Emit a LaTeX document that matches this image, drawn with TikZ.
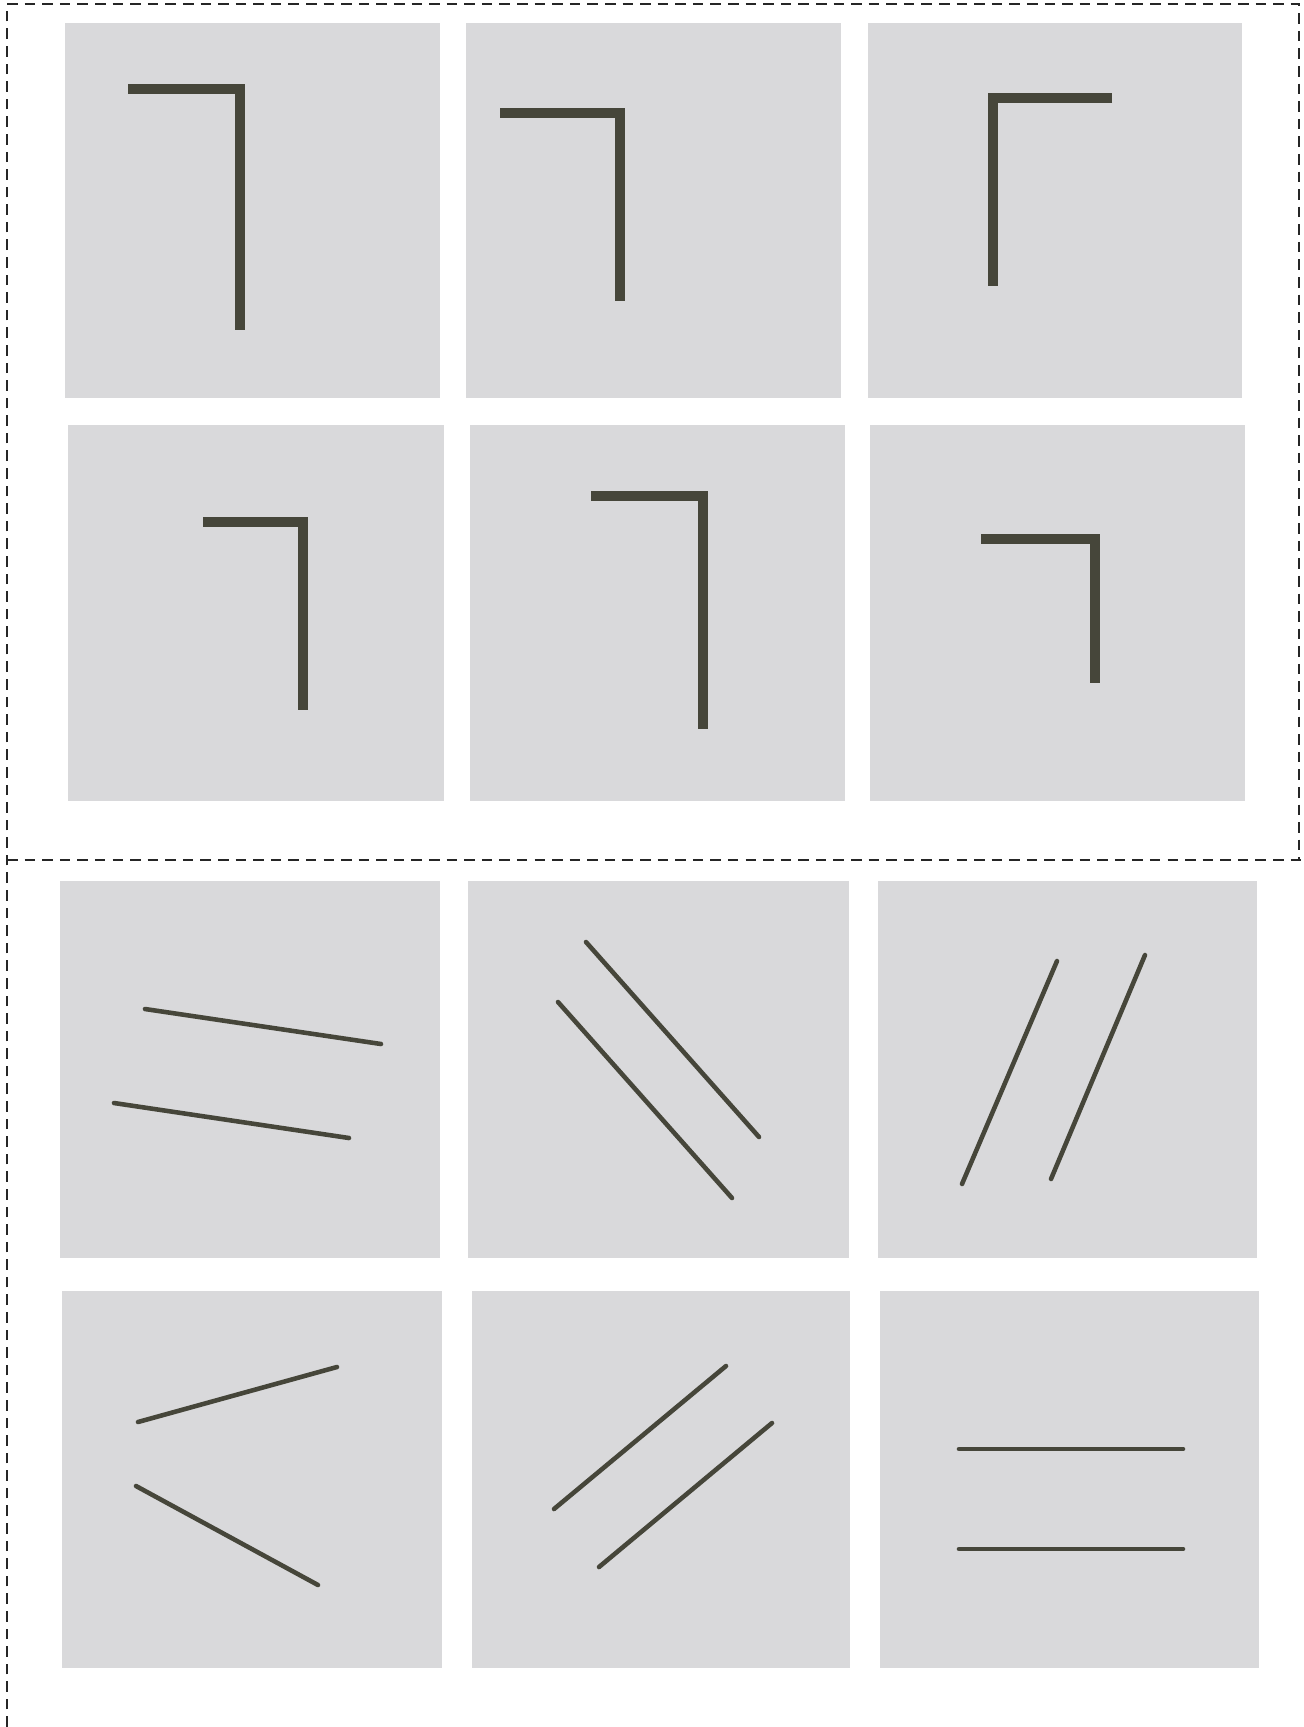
\documentclass[tikz,border=0pt]{standalone}
\usepackage{tikz}

\definecolor{cardgray}{RGB}{217,217,219}
\definecolor{barink}{RGB}{70,70,58}

\begin{document}
\begin{tikzpicture}[
        x=0.01cm,
        y=-0.01cm,
        card/.style={
            fill=cardgray,
            draw=none
        },
        bracket/.style={
            draw=barink,
            line width=3pt,
            line cap=butt,
            line join=miter
        },
        stroke/.style={
            draw=barink,
            line width=1.3pt,
            line cap=round
        },
        frame/.style={
            draw=black!85,
            densely dashed,
            line width=0.4pt
        }
    ]

        \useasboundingbox (0,0) rectangle (1304,1727);

        % upper panel: bent bars
        \fill[card] (65,23) rectangle (440,398);
        \fill[card] (466,23) rectangle (841,398);
        \fill[card] (868,23) rectangle (1242,398);
        \fill[card] (68,425) rectangle (444,801);
        \fill[card] (470,425) rectangle (845,801);
        \fill[card] (870,425) rectangle (1245,801);

        \draw[bracket] (128,89) -- (240,89) -- (240,330);
        \draw[bracket] (500,113) -- (620,113) -- (620,301);
        \draw[bracket] (1112,98) -- (993,98) -- (993,286);
        \draw[bracket] (203,522) -- (303,522) -- (303,710);
        \draw[bracket] (591,496) -- (703,496) -- (703,729);
        \draw[bracket] (981,539) -- (1095,539) -- (1095,683);

        % lower panel: line pairs
        \fill[card] (60,881) rectangle (440,1258);
        \fill[card] (468,881) rectangle (849,1258);
        \fill[card] (878,881) rectangle (1257,1258);
        \fill[card] (62,1291) rectangle (442,1668);
        \fill[card] (472,1291) rectangle (850,1668);
        \fill[card] (880,1291) rectangle (1259,1668);

        \draw[stroke] (145,1009) -- (381,1044);
        \draw[stroke] (114,1103) -- (349,1138);
        \draw[stroke] (586,942) -- (759,1137);
        \draw[stroke] (558,1002) -- (732,1198);
        \draw[stroke] (1057,961) -- (962,1184);
        \draw[stroke] (1145,955) -- (1051,1179);
        \draw[stroke] (138,1422) -- (337,1367);
        \draw[stroke] (136,1486) -- (318,1585);
        \draw[stroke] (554,1509) -- (726,1366);
        \draw[stroke] (599,1567) -- (772,1423);
        \draw[stroke] (959,1449) -- (1183,1449);
        \draw[stroke] (959,1549) -- (1183,1549);

        % frame
        \draw[frame] (7,1727) -- (7,4) -- (1299,4) -- (1299,860);
        \draw[frame] (7,860) -- (1304,860);

    \end{tikzpicture}
\end{document}
